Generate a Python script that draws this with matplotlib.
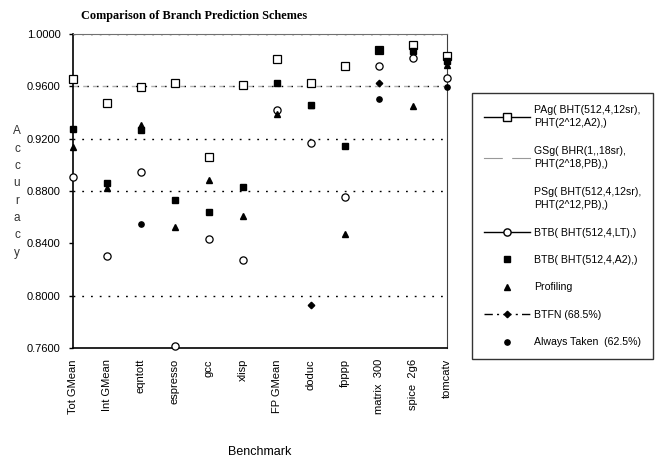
import numpy as np
import matplotlib
matplotlib.use('Agg')
import matplotlib.pyplot as plt
from matplotlib.lines import Line2D

nan = np.nan

benchmarks = ['Tot GMean', 'Int GMean', 'eqntott', 'espresso', 'gcc', 'xlisp',
              'FP GMean', 'doduc', 'fpppp', 'matrix  300', 'spice  2g6', 'tomcatv']

# values (nan = not visible / below the axis)
pag = [0.9656, 0.9470, 0.9595, 0.9623, 0.9060, 0.9613,
       0.9811, 0.9623, 0.9758, 0.9880, 0.9913, 0.9830]
btb_lt = [0.8904, 0.8306, 0.8948, 0.7613, 0.8433, 0.8270,
          0.9422, 0.9167, 0.8752, 0.9753, 0.9817, 0.9664]
btb_a2 = [0.9276, 0.8861, 0.9269, 0.8731, 0.8637, 0.8828,
          0.9625, 0.9460, 0.9146, 0.9880, 0.9868, 0.9796]
profiling = [0.9134, 0.8823, 0.9307, 0.8527, 0.8887, 0.8606,
             0.9389, 0.9455, 0.8471, nan, 0.9447, 0.9766]
btfn = [nan, nan, nan, nan, nan, nan,
        nan, 0.7926, nan, 0.9625, nan, nan]
always_taken = [nan, nan, 0.8548, nan, nan, nan,
                nan, nan, nan, 0.9506, nan, 0.9592]

legend_labels = ['PAg( BHT(512,4,12sr),\nPHT(2^12,A2),)',
                 'GSg( BHR(1,,18sr),\nPHT(2^18,PB),)',
                 'PSg( BHT(512,4,12sr),\nPHT(2^12,PB),)',
                 'BTB( BHT(512,4,LT),)',
                 'BTB( BHT(512,4,A2),)',
                 'Profiling',
                 'BTFN (68.5%)',
                 'Always Taken  (62.5%)']

plt.rcParams['font.family'] = ['Liberation Sans', 'DejaVu Sans']

fig = plt.figure(figsize=(6.57, 4.62), dpi=100)
ax = fig.add_axes([73/657, 1-348/462, 374/657, 314/462])

x = np.arange(len(benchmarks))

# grid lines
for g in [0.80, 0.88, 0.92, 1.00]:
    ax.axhline(g, color='k', lw=1.0, linestyle=(0, (1.3, 5)), zorder=1)
ax.axhline(0.96, color='#b0b0b0', lw=1.0, linestyle=(0, (3, 4)), zorder=1)
ax.axhline(0.96, color='k', lw=1.0, linestyle=(4, (1.0, 6)), zorder=1)

kw = dict(linestyle='none', clip_on=False, zorder=3)
ax.plot(x, pag, marker='s', ms=5.2, mfc='white', mec='k', mew=0.9, **kw)
ax.plot(x, btb_lt, marker='o', ms=5.2, mfc='white', mec='k', mew=0.9, **kw)
ax.plot(x, profiling, marker='^', ms=4.6, color='k', **kw)
ax.plot(x, btb_a2, marker='s', ms=3.8, color='k', **kw)
ax.plot(x, btfn, marker='D', ms=3.3, color='k', **kw)
ax.plot(x, always_taken, marker='o', ms=3.8, color='k', **kw)

ax.set_xlim(0, len(benchmarks) - 1)
ax.set_ylim(0.76, 1.0)
ax.set_yticks(np.arange(0.76, 1.001, 0.04))
ax.set_yticklabels(['%.4f' % v for v in np.arange(0.76, 1.001, 0.04)], fontsize=8)
ax.set_xticks(x)
ax.set_xticklabels(benchmarks, rotation=90, fontsize=8)
ax.tick_params(axis='x', length=0, pad=8)
ax.set_xticks([5, 8, 11], minor=True)
ax.tick_params(axis='x', which='minor', direction='inout', length=7, width=1)
ax.tick_params(axis='y', length=3, width=1, pad=6)

ax.spines['left'].set_linewidth(1.2)
ax.spines['bottom'].set_linewidth(1.2)
ax.spines['top'].set_color('#707070')
ax.spines['right'].set_color('#404040')

fig.text(194/657, 1-16/462, 'Comparison of Branch Prediction Schemes',
         family='Liberation Serif', weight='bold', fontsize=8.8, ha='center', va='center')
fig.text(260/657, 1-452/462, 'Benchmark', fontsize=9, ha='center', va='center')
fig.text(17/657, 1-192/462, '\n'.join('Accuracy'), fontsize=8.5, ha='center',
         va='center', linespacing=1.6, color='#333333')

handles = [
    Line2D([], [], color='k', lw=1, marker='s', ms=5.2, mfc='white', mec='k'),
    Line2D([], [], color='#999999', lw=0.8, marker='s', ms=6, mfc='white', mec='white'),
    Line2D([], [], color='white', lw=0, marker='^', ms=5, mfc='white', mec='white'),
    Line2D([], [], color='k', lw=1, marker='o', ms=5.2, mfc='white', mec='k'),
    Line2D([], [], linestyle='none', marker='s', ms=3.8, color='k'),
    Line2D([], [], linestyle='none', marker='^', ms=4.6, color='k'),
    Line2D([], [], color='k', lw=1, linestyle=(0, (6, 3, 1.5, 3)), marker='D', ms=3.3),
    Line2D([], [], linestyle='none', marker='o', ms=3.8, color='k'),
]
leg = fig.legend(handles, legend_labels, loc='upper left',
                 bbox_to_anchor=(472/657, 1-93/462), fontsize=7.6,
                 frameon=True, fancybox=False, edgecolor='k',
                 handlelength=4.4, handletextpad=0.4, labelspacing=1.65,
                 borderpad=1.1, borderaxespad=0)
leg.get_frame().set_linewidth(1.0)
for t in leg.get_texts():
    t.set_linespacing(1.45)

fig.savefig('out.png', dpi=100)
